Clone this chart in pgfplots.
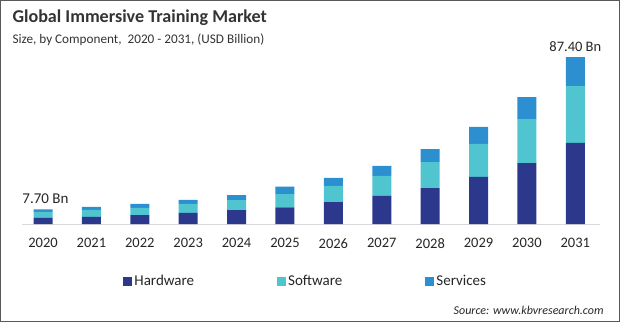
\documentclass[border=0pt]{standalone}
\usepackage{fontspec}
\setmainfont{Carlito}
\usepackage{pgfplots}
\pgfplotsset{compat=1.18}
\definecolor{hw}{HTML}{2C388C}
\definecolor{sw}{HTML}{50C4CF}
\definecolor{sv}{HTML}{2B8FD0}
\begin{document}
\begin{tikzpicture}[x=1pt,y=1pt]
\useasboundingbox (0,0) rectangle (620,322);
\draw[gray!70!black,line width=1pt] (0.5,0.5) rectangle (619.5,321.5);
\node[anchor=west,font=\fontsize{18.1}{18}\selectfont\bfseries,text=black!80] at (9,304) {Global Immersive Training Market};
\node[anchor=west,font=\fontsize{13.2}{13}\selectfont,text=black!80] at (9,282) {Size, by Component,\ \ 2020 - 2031, (USD Billion)};
\begin{axis}[
  at={(22pt,98pt)}, anchor=south west,
  scale only axis, width=578pt, height=184pt,
  xmin=-0.434, xmax=11.51, ymin=0, ymax=96.3,
  ybar stacked, bar width=19pt,
  axis x line=bottom, axis y line=none,
  axis line style={draw=black!15, -},
  x axis line style={-},
  xtick=data,
  xticklabels={2020,2021,2022,2023,2024,2025,2026,2027,2028,2029,2030,2031},
  major tick length=0pt,
  /pgf/number format/assume math mode=true,
  xticklabel style={font=\fontsize{14.5}{14}\selectfont, text=black!85, yshift=-11pt},
  legend columns=3,
  legend style={at={(0.17,-0.31)}, anchor=west, draw=none, fill=none,
    font=\fontsize{15}{15}\selectfont, text=black!85,
    /tikz/every even column/.append style={column sep=81pt}},
  legend cell align=left,
  legend image code/.code={\fill[#1] (0pt,-4.5pt) rectangle (9pt,4.5pt);},
]
\addplot[fill=hw, draw=none] coordinates {(0,3.4) (1,3.7) (2,4.7) (3,5.8) (4,7.3) (5,8.7) (6,11.5) (7,14.7) (8,18.8) (9,24.6) (10,31.9) (11,42.5)};
\addplot[fill=sw, draw=none] coordinates {(0,3.0) (1,3.7) (2,3.7) (3,4.7) (4,5.2) (5,7.0) (6,8.4) (7,10.5) (8,13.6) (9,17.3) (10,23.0) (11,29.7)};
\addplot[fill=sv, draw=none] coordinates {(0,1.3) (1,1.6) (2,2.1) (3,2.1) (4,2.6) (5,3.8) (6,4.2) (7,5.2) (8,6.8) (9,8.9) (10,11.5) (11,15.2)};
\legend{Hardware,Software,Services}
\node[font=\fontsize{15}{15}\selectfont, text=black!85, anchor=south] at (axis cs:0.05,8.6) {7.70 Bn};
\node[font=\fontsize{14.5}{14.5}\selectfont, text=black!85, anchor=south] at (axis cs:11,88.3) {87.40 Bn};
\end{axis}
\node[anchor=east,font=\fontsize{12}{12}\selectfont\itshape,text=black!85] at (607,12) {Source: www.kbvresearch.com};
\end{tikzpicture}
\end{document}
